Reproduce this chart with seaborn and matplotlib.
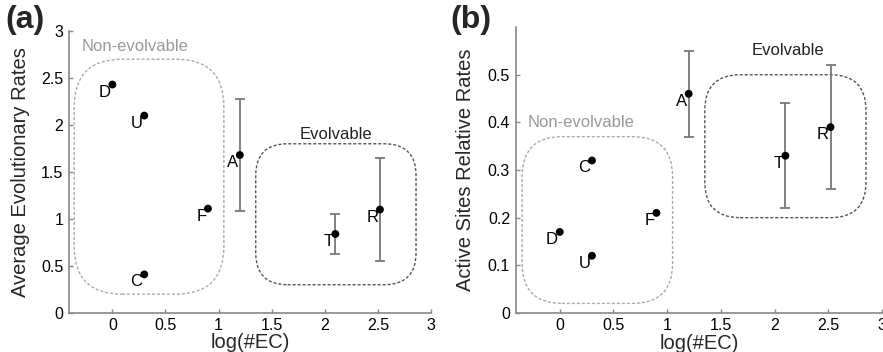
import numpy as np
import pandas as pd
import matplotlib
matplotlib.use("Agg")
import matplotlib.pyplot as plt
from matplotlib.patches import FancyBboxPatch
import seaborn as sns

# EC classes and their position on the log(#EC) axis
classes = ["D", "U", "C", "F", "A", "T", "R"]
log_ec = [0.0, 0.30, 0.30, 0.90, 1.20, 2.10, 2.52]

# (a) average evolutionary rates, error only for A, T, R
avg_rate = [2.43, 2.10, 0.41, 1.11, 1.68, 0.84, 1.10]
avg_rate_err = [0.0, 0.0, 0.0, 0.0, 0.60, 0.21, 0.55]

# (b) active sites relative rates
site_rate = [0.17, 0.12, 0.32, 0.21, 0.46, 0.33, 0.39]
site_rate_err = [0.0, 0.0, 0.0, 0.0, 0.09, 0.11, 0.13]

x_ticks = [0, 0.5, 1, 1.5, 2, 2.5, 3]
y_ticks_a = [0, 0.5, 1, 1.5, 2, 2.5, 3]
y_ticks_b = [0, 0.1, 0.2, 0.3, 0.4, 0.5]

# group boxes: (x0, x1, y0, y1, corner radius in x units)
boxes_a = {"Non-evolvable": (-0.36, 1.05, 0.20, 2.70, 0.45),
           "Evolvable": (1.35, 2.86, 0.30, 1.80, 0.30)}
boxes_b = {"Non-evolvable": (-0.35, 1.05, 0.02, 0.37, 0.37),
           "Evolvable": (1.35, 2.85, 0.20, 0.50, 0.33)}

sns.set_style("ticks")
plt.rcParams["font.family"] = ["Liberation Sans", "DejaVu Sans"]

fig = plt.figure(figsize=(8.83, 3.52), dpi=100)
ax_a = fig.add_axes([0.078, 0.111, 0.410, 0.801])
ax_b = fig.add_axes([0.584, 0.111, 0.415, 0.812])


def fmt(v):
    return "%g" % v


def draw_panel(ax, yvals, yerr, ylim, yticks, boxes, ylabel, label_pos):
    df = pd.DataFrame({"log_ec": log_ec, "rate": yvals, "err": yerr, "cls": classes})
    ax.set_xlim(-0.41, 3.0)
    ax.set_ylim(*ylim)

    with_err = df[df["err"] > 0]
    ax.errorbar(with_err["log_ec"], with_err["rate"], yerr=with_err["err"],
                fmt="none", ecolor="#777777", elinewidth=1.3, capsize=3.5,
                capthick=1.3, zorder=2)
    sns.scatterplot(data=df, x="log_ec", y="rate", ax=ax, color="black",
                    s=32, edgecolor="none", zorder=3, legend=False)
    for _, r in df.iterrows():
        ax.annotate(r["cls"], (r["log_ec"], r["rate"]), xytext=(-1.2, 0),
                    textcoords="offset points", ha="right", va="top",
                    fontsize=12, color="black", zorder=4)

    # rounded dashed boxes, corners kept circular in pixels
    bb = ax.get_window_extent()
    px_x = bb.width / (ax.get_xlim()[1] - ax.get_xlim()[0])
    px_y = bb.height / (ax.get_ylim()[1] - ax.get_ylim()[0])
    aspect = px_x / px_y
    for name, (x0, x1, y0, y1, rad) in boxes.items():
        col = "#aaaaaa" if name == "Non-evolvable" else "#555555"
        patch = FancyBboxPatch((x0, y0), x1 - x0, y1 - y0,
                               boxstyle="round,pad=0,rounding_size=%f" % rad,
                               mutation_aspect=aspect, fill=False,
                               edgecolor=col, linestyle=(0, (2.2, 1.4)),
                               linewidth=1.0, zorder=1)
        ax.add_patch(patch)
        tx, ty, tha = label_pos[name]
        ax.text(tx, ty, name, ha=tha, va="center", fontsize=12,
                color="#999999" if name == "Non-evolvable" else "#222222")

    ax.set_xticks(x_ticks)
    ax.set_xticklabels([fmt(v) for v in x_ticks])
    ax.set_yticks(yticks)
    ax.set_yticklabels([fmt(v) for v in yticks])
    ax.tick_params(direction="in", length=3, width=1, color="#888888",
                   labelsize=11.5, pad=4, labelcolor="black")
    sns.despine(ax=ax)
    for sp in ["left", "bottom"]:
        ax.spines[sp].set_color("#888888")
        ax.spines[sp].set_linewidth(1.2)

    ax.set_xlabel("log(#EC)", fontsize=14.5)
    ax.set_ylabel(ylabel, fontsize=14.5)
    ax.xaxis.set_label_coords(0.5, -0.072)
    ax.yaxis.set_label_coords(-0.108, 0.5)
    ax.grid(False)


fig.canvas.draw()
draw_panel(ax_a, avg_rate, avg_rate_err, (0, 3), y_ticks_a, boxes_a,
           "Average Evolutionary Rates",
           {"Non-evolvable": (-0.29, 2.84, "left"),
            "Evolvable": (2.11, 1.90, "center")})
draw_panel(ax_b, site_rate, site_rate_err, (0, 0.6), y_ticks_b, boxes_b,
           "Active Sites Relative Rates",
           {"Non-evolvable": (-0.30, 0.40, "left"),
            "Evolvable": (2.12, 0.55, "center")})
ax_b.yaxis.set_label_coords(-0.112, 0.5)

fig.text(0.006, 0.943, "(a)", fontsize=23, fontweight="bold", va="center", ha="left")
fig.text(0.510, 0.943, "(b)", fontsize=23, fontweight="bold", va="center", ha="left")

fig.savefig("out.png", dpi=100)
